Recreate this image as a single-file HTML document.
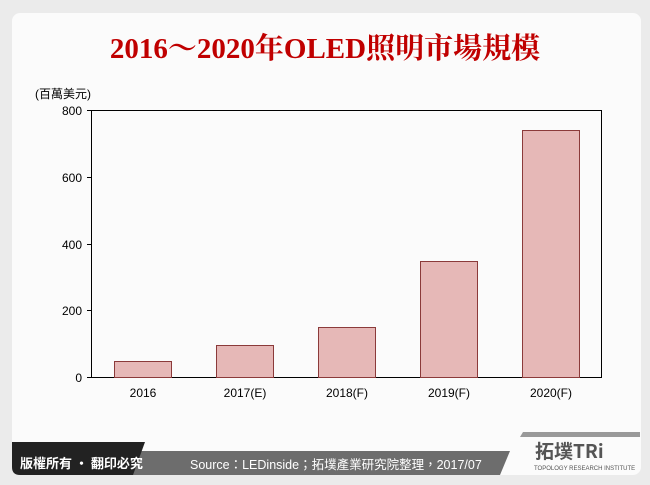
<!DOCTYPE html>
<html><head><meta charset="utf-8"><style>
html,body{margin:0;padding:0;width:650px;height:485px;background:#ebebeb;overflow:hidden;font-family:"Liberation Sans","Noto Sans CJK TC",sans-serif}
.card{position:absolute;left:12px;top:13px;width:629px;height:462px;background:#fbfbfb;border-radius:8px;overflow:hidden}
.t{position:absolute;font-size:12px;color:#000}
</style></head><body>
<div class="card"></div>
<div style="position:absolute;left:0;top:31px;width:650px;text-align:center;font:bold 29px 'Liberation Serif','Noto Serif CJK SC',serif;color:#c00000;line-height:36px;white-space:nowrap">2016～2020年OLED照明市場規模</div>
<div class="t" style="left:35px;top:85px">(百萬美元)</div>
<svg width="650" height="485" style="position:absolute;left:0;top:0">
<rect x="91.5" y="110.5" width="510" height="267" fill="none" stroke="#000" stroke-width="1"/>
<g stroke="#000"><line x1="87" y1="110.5" x2="91" y2="110.5"/><line x1="87" y1="177.5" x2="91" y2="177.5"/><line x1="87" y1="244.5" x2="91" y2="244.5"/><line x1="87" y1="310.5" x2="91" y2="310.5"/><line x1="87" y1="377.5" x2="91" y2="377.5"/></g>
<g fill="#e6b8b7" stroke="#8b3a3a" stroke-width="1">
<rect x="114.5" y="361.5" width="57" height="16"/>
<rect x="216.5" y="345.5" width="57" height="32"/>
<rect x="318.5" y="327.5" width="57" height="50"/>
<rect x="420.5" y="261.5" width="57" height="116"/>
<rect x="522.5" y="130.5" width="57" height="247"/>
</g>
<g font-family="Liberation Sans,sans-serif" font-size="12" text-anchor="end"><text x="82" y="115">800</text><text x="82" y="182">600</text><text x="82" y="249">400</text><text x="82" y="315">200</text><text x="82" y="382">0</text></g>
<g font-family="Liberation Sans,sans-serif" font-size="12" text-anchor="middle"><text x="143" y="397">2016</text><text x="245" y="397">2017(E)</text><text x="347" y="397">2018(F)</text><text x="449" y="397">2019(F)</text><text x="551" y="397">2020(F)</text></g>
<polygon points="140,451 510,451 500,475 130,475" fill="#6d6d6d"/>
<path d="M12,442 L145,442 L133,475 L20,475 Q12,475 12,467 Z" fill="#222"/>
<polygon points="523,432 640,432 640,437 520,437" fill="#999"/>
<text x="20" y="468" font-family="Noto Sans CJK TC,sans-serif" font-size="13" fill="#fff" font-weight="bold">版權所有 · 翻印必究</text>
<text x="190" y="469" font-family="Liberation Sans,Noto Sans CJK TC,sans-serif" font-size="12.5" fill="#fff">Source：LEDinside；拓墣產業研究院整理，2017/07</text>
<text x="535" y="458" font-family="Noto Sans CJK TC,sans-serif" font-size="19" font-weight="bold" fill="#555">拓墣TRi</text>
<text x="534" y="470" font-family="Liberation Sans,sans-serif" font-size="6" fill="#555">TOPOLOGY RESEARCH INSTITUTE</text>
</svg>
</body></html>
